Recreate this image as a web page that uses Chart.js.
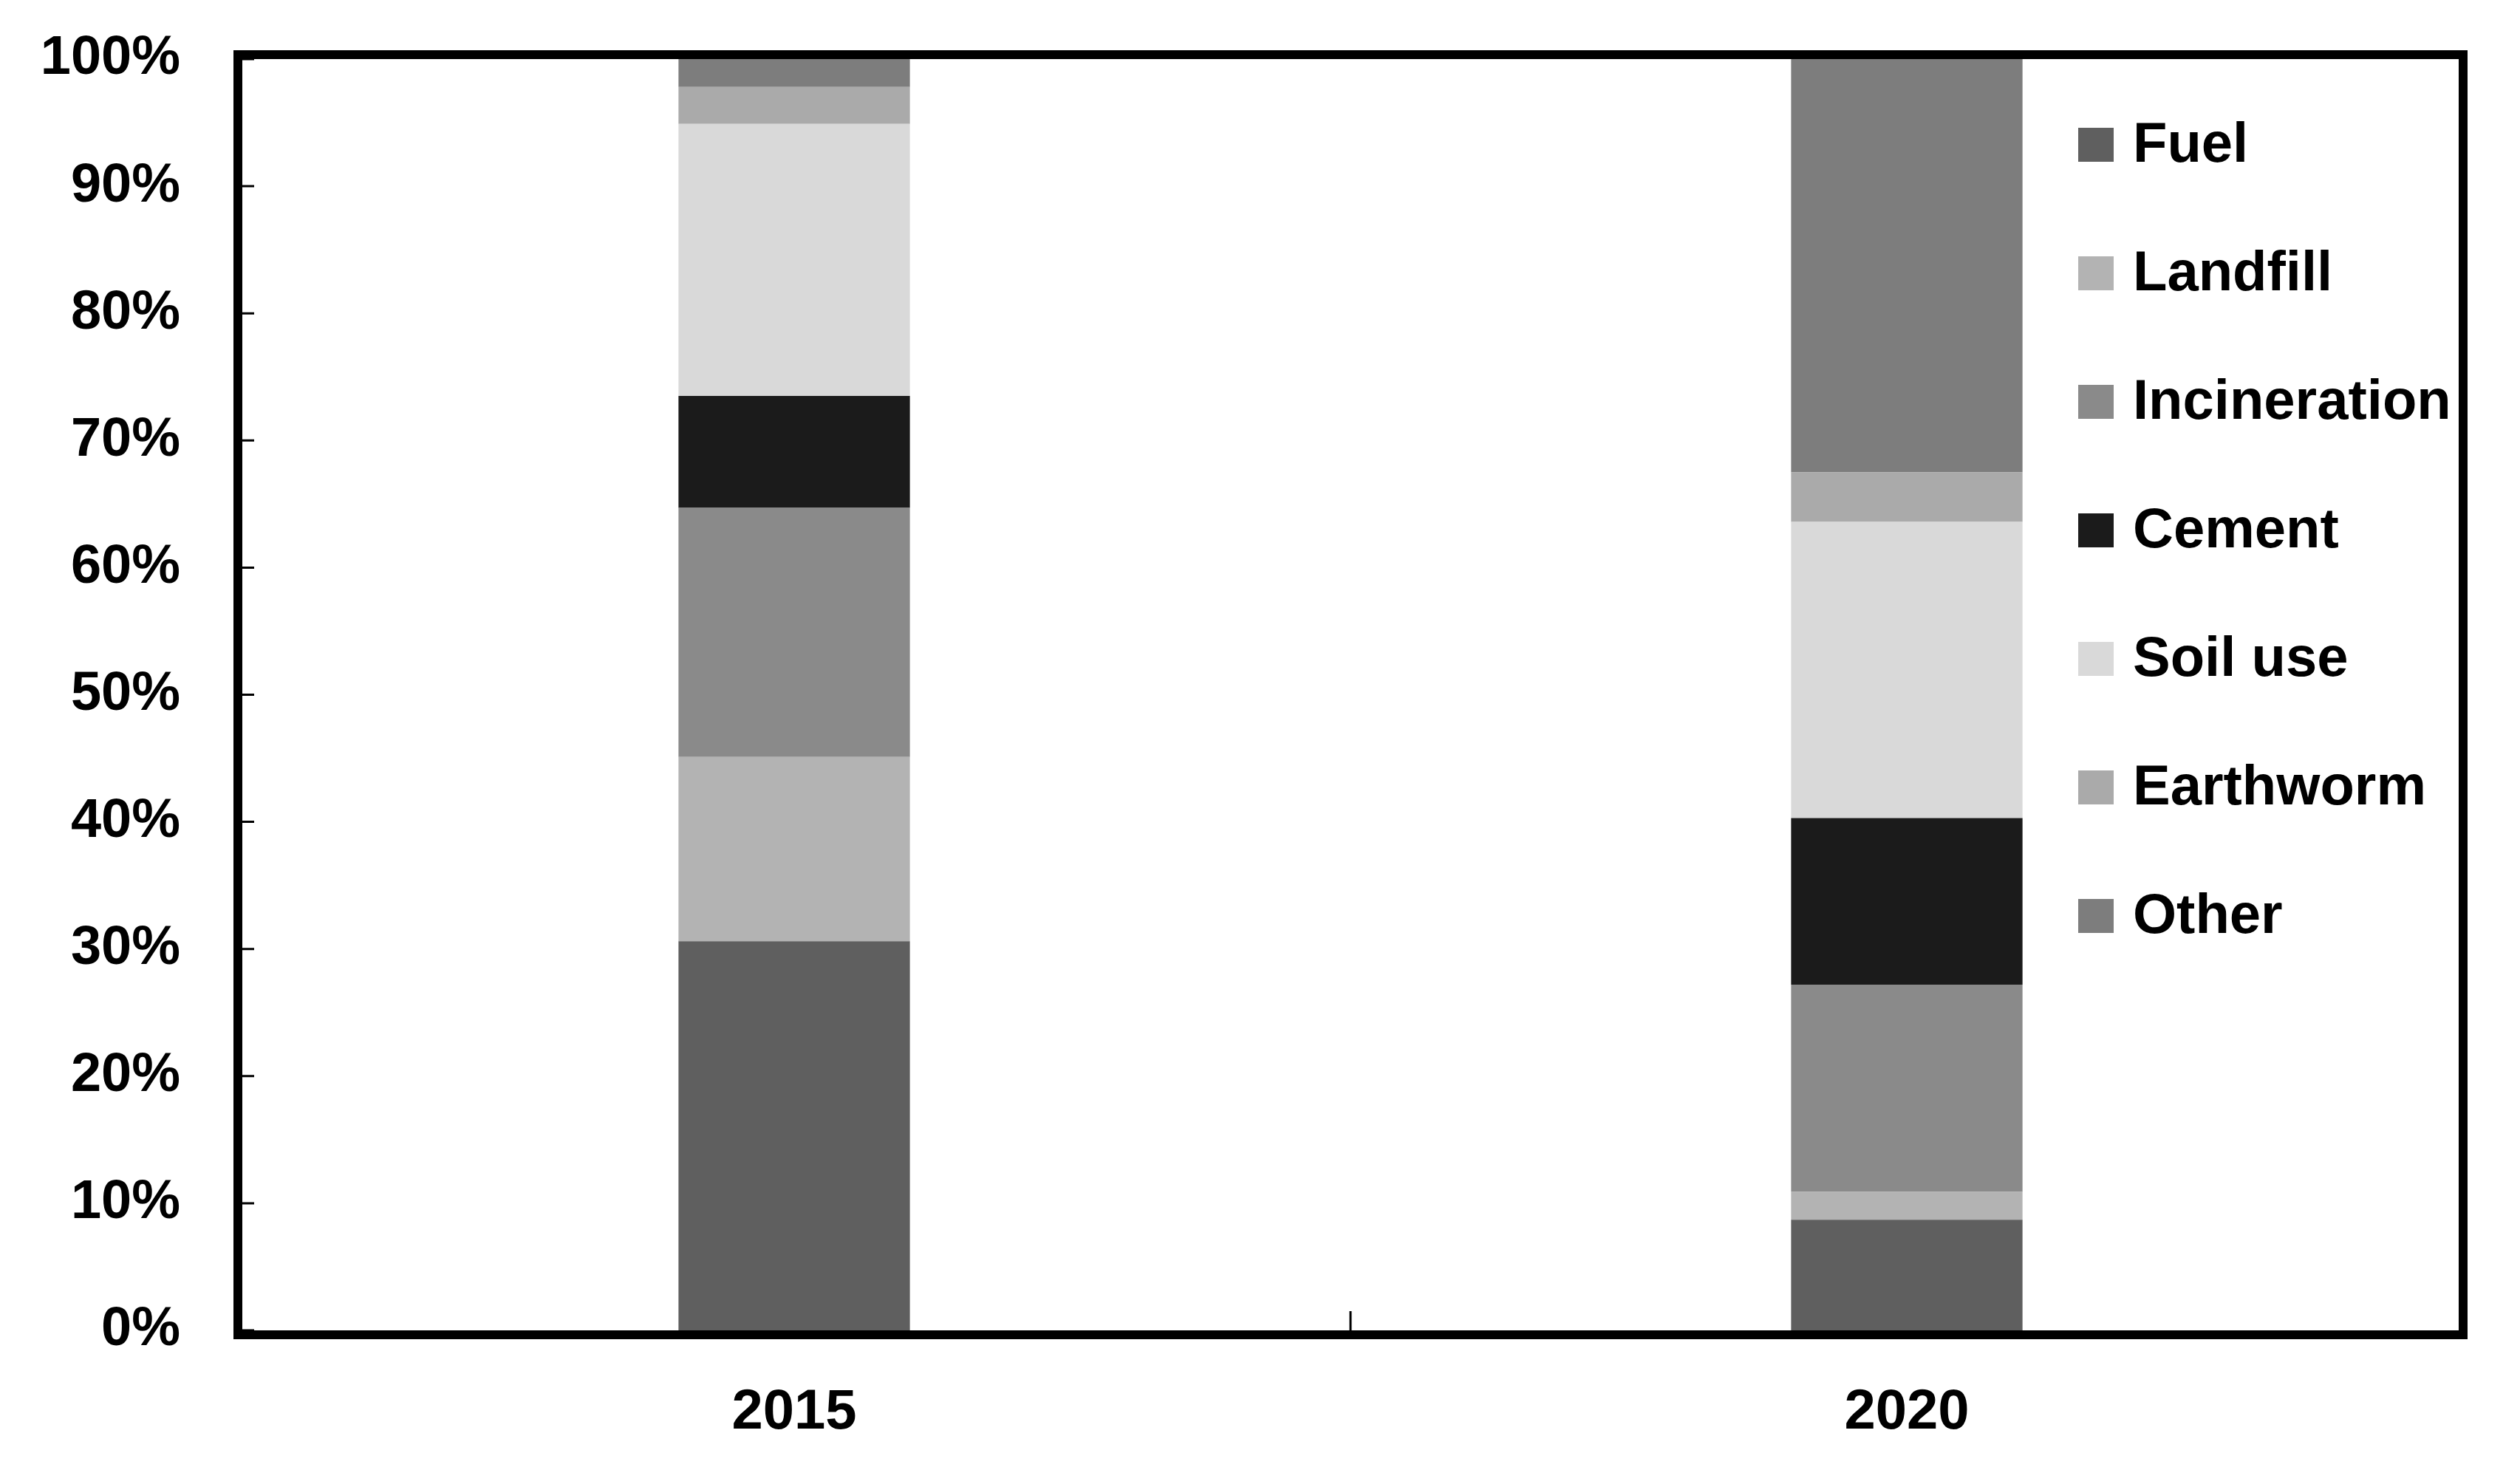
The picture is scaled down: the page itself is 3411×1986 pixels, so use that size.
<!DOCTYPE html>
<html>
<head>
<meta charset="utf-8">
<script src="https://cdn.jsdelivr.net/npm/chart.js@4.4.0/dist/chart.umd.min.js"></script>
<style>
    body { margin: 0; background: #fff; }
    canvas { display: block; }
</style>
</head>
<body>
<canvas id="myChart" width="3411" height="1986"></canvas>
<script>
const years = ['2015', '2020'];
const sources = ['Fuel', 'Landfill', 'Incineration', 'Cement', 'Soil use', 'Earthworm', 'Other'];
const fuel = [30.6, 8.7];
const landfill = [14.5, 2.2];
const incineration = [19.6, 16.3];
const cement = [8.8, 13.1];
const soilUse = [21.4, 23.3];
const earthworm = [2.9, 3.9];
const other = [2.2, 32.5];
const yTicks = [0, 10, 20, 30, 40, 50, 60, 70, 80, 90, 100];

const seriesValues = [fuel, landfill, incineration, cement, soilUse, earthworm, other];
const colors = ['#5f5f5f', '#b3b3b3', '#8a8a8a', '#1b1b1b', '#d9d9d9', '#aaaaaa', '#7d7d7d'];

const fontFamily = '"Liberation Sans", Arial, sans-serif';

// frame, inward ticks and the legend inside the plot
const framePlugin = {
    id: 'framePlugin',
    afterDraw(chart) {
        const ctx = chart.ctx;
        const a = chart.chartArea;
        const x = chart.scales.x;
        const y = chart.scales.y;
        ctx.save();
        ctx.strokeStyle = '#000';

        ctx.lineWidth = 3;
        ctx.beginPath();
        for (const t of y.ticks) {
            const py = y.getPixelForValue(t.value);
            ctx.moveTo(a.left, py);
            ctx.lineTo(a.left + 22, py);
        }
        const mid = (x.getPixelForValue(0) + x.getPixelForValue(1)) / 2;
        ctx.moveTo(mid, a.bottom);
        ctx.lineTo(mid, a.bottom - 26);
        ctx.stroke();

        ctx.lineWidth = 12;
        ctx.strokeRect(a.left, a.top - 6, a.right - a.left, a.bottom - a.top + 12);

        // legend
        ctx.font = 'bold 76px ' + fontFamily;
        ctx.textBaseline = 'middle';
        ctx.textAlign = 'left';
        chart.data.datasets.forEach(function (ds, i) {
            const cy = 196 + i * 174;
            ctx.fillStyle = ds.backgroundColor;
            ctx.fillRect(2813, cy - 23, 48, 46);
            ctx.fillStyle = '#000';
            ctx.fillText(ds.label, 2887, cy + 2);
        });
        ctx.restore();
    }
};

function makeChart() {
    const datasets = [];
    for (let i = 0; i < sources.length; i++) {
        datasets.push({
            label: sources[i],
            data: seriesValues[i],
            backgroundColor: colors[i],
            borderWidth: 0,
            categoryPercentage: 1,
            barPercentage: 0.208
        });
    }

    const config = {
        type: 'bar',
        data: { labels: years, datasets: datasets },
        options: {
            responsive: false,
            animation: false,
            layout: { padding: { top: 80, right: 77, bottom: 0, left: 0 } },
            plugins: {
                legend: { display: false },
                tooltip: { enabled: false }
            },
            scales: {
                x: {
                    stacked: true,
                    grid: { display: false, drawTicks: false },
                    border: { display: false },
                    ticks: {
                        color: '#000',
                        padding: 66,
                        font: { family: fontFamily, size: 76, weight: 'bold' }
                    },
                    afterFit: function (s) {
                        s.height = 185;
                        s.paddingLeft = 0;
                        s.paddingRight = 0;
                    }
                },
                y: {
                    stacked: true,
                    min: 0,
                    max: 100,
                    grid: { display: false, drawTicks: false },
                    border: { display: false },
                    afterBuildTicks: function (s) {
                        s.ticks = yTicks.map(function (v) { return { value: v }; });
                    },
                    ticks: {
                        color: '#000',
                        padding: 78,
                        font: { family: fontFamily, size: 74, weight: 'bold' },
                        callback: function (v) { return v + '%'; }
                    },
                    afterFit: function (s) {
                        s.width = 322;
                        s.paddingTop = 0;
                        s.paddingBottom = 0;
                    }
                }
            }
        },
        plugins: [framePlugin]
    };

    new Chart(document.getElementById('myChart'), config);
}

makeChart();
</script>
</body>
</html>
